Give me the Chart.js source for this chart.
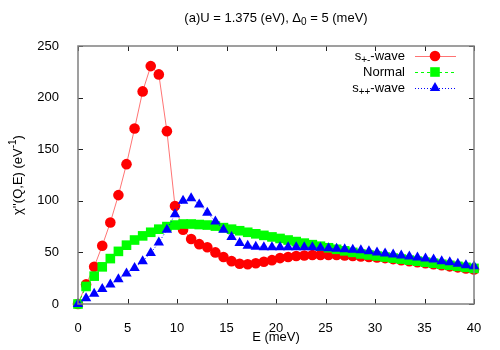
<!DOCTYPE html>
<html>
<head>
<meta charset="utf-8">
<script src="https://cdn.jsdelivr.net/npm/chart.js@4"></script>
<style>
  body { margin: 0; background: #fff; }
  #chart { display: block; }
</style>
</head>
<body>
<canvas id="chart" width="500" height="350"></canvas>
<script>
// energy grid (meV)
var energy = [0, 0.816, 1.633, 2.449, 3.265, 4.082, 4.898, 5.714, 6.531, 7.347,
  8.163, 8.980, 9.796, 10.612, 11.429, 12.245, 13.061, 13.878, 14.694, 15.510,
  16.327, 17.143, 17.959, 18.776, 19.592, 20.408, 21.224, 22.041, 22.857, 23.673,
  24.490, 25.306, 26.122, 26.939, 27.755, 28.571, 29.388, 30.204, 31.020, 31.837,
  32.653, 33.469, 34.286, 35.102, 35.918, 36.735, 37.551, 38.367, 39.184, 40];

var spmWave = [0, 19, 36, 56.5, 79, 105.5, 135.5, 170, 206, 230.5,
  222.5, 167.5, 95, 72, 63, 58, 55, 50, 45.5, 41.5,
  39, 38.5, 39.5, 41, 42.5, 44.5, 45.5, 46.5, 47, 47.5,
  47.5, 47.5, 47.5, 47, 46.5, 46, 45.5, 45, 44.5, 43.5,
  42.5, 41.5, 40.5, 39.5, 38.5, 37.5, 36.5, 35.5, 34.5, 33.5];

var normal = [0, 17, 27, 36, 44, 51, 57, 62, 66, 69.5,
  72.5, 75, 76.5, 77.5, 77.5, 77, 76.5, 75.5, 74, 72.5,
  71, 69.5, 68, 66.5, 65, 63.5, 62, 60.5, 59, 57.5,
  56, 54.5, 53, 51.5, 50, 48.5, 47.5, 46.5, 45.5, 44.5,
  43.5, 42.5, 41.5, 40.5, 39.5, 38.5, 37.5, 36.5, 35.5, 34.5];

var sppWave = [0, 5.5, 10, 14.5, 19, 24, 29.5, 35, 41.5, 49.5,
  59.5, 72, 87, 100, 102.5, 96.5, 88.5, 80, 72, 65,
  59, 56.5, 55.5, 55, 55, 55, 55, 55, 55, 55,
  54.5, 54, 53.5, 53, 52.5, 52, 51, 50, 49, 48,
  47, 46, 45, 44, 43, 41.5, 40.5, 39, 37.5, 36.5];

var FONT = '"Liberation Sans", Arial, sans-serif';

function pts(vals) {
  return energy.map(function (e, i) { return { x: e, y: vals[i] }; });
}

// draws text with sub (1) / superscript (2) pieces
function richText(ctx, parts, x, y, align) {
  var total = 0;
  parts.forEach(function (p) {
    ctx.font = (p[1] ? 10 : 13) + 'px ' + FONT;
    total += ctx.measureText(p[0]).width;
  });
  var cx = align == 'center' ? x - total / 2 : (align == 'right' ? x - total : x);
  ctx.textAlign = 'left';
  ctx.textBaseline = 'middle';
  ctx.fillStyle = '#000';
  parts.forEach(function (p) {
    ctx.font = (p[1] ? 10 : 13) + 'px ' + FONT;
    var dy = p[1] == 1 ? 4 : (p[1] == 2 ? -5 : 0);
    ctx.fillText(p[0], cx, y + dy);
    cx += ctx.measureText(p[0]).width;
  });
}

function marker(ctx, style, x, y, color) {
  ctx.fillStyle = color;
  ctx.beginPath();
  if (style == 'circle') {
    ctx.arc(x, y, 5.3, 0, Math.PI * 2);
  } else if (style == 'rect') {
    ctx.rect(x - 4.8, y - 4.8, 9.6, 9.6);
  } else {
    ctx.moveTo(x, y - 6);
    ctx.lineTo(x + 5.2, y + 3);
    ctx.lineTo(x - 5.2, y + 3);
    ctx.closePath();
  }
  ctx.fill();
}

var legendItems = [
  { parts: [['s', 0], ['+-', 1], ['-wave', 0]], color: '#ff0000', line: 'rgba(255,0,0,0.55)', dash: [], style: 'circle' },
  { parts: [['Normal', 0]], color: '#00ff00', line: '#00ff00', dash: [3, 3], style: 'rect' },
  { parts: [['s', 0], ['++', 1], ['-wave', 0]], color: '#0000ff', line: '#0000ff', dash: [1, 2], style: 'triangle' }
];

var framePlugin = {
  id: 'frame',
  afterDraw: function (chart) {
    var ctx = chart.ctx, a = chart.chartArea;
    var xs = chart.scales.x, ys = chart.scales.y;
    ctx.save();
    // inward ticks on all four sides
    ctx.strokeStyle = '#222';
    ctx.lineWidth = 1;
    ctx.beginPath();
    xs.ticks.forEach(function (t) {
      var px = Math.round(xs.getPixelForValue(t.value)) + 0.5;
      ctx.moveTo(px, a.bottom); ctx.lineTo(px, a.bottom - 5);
      ctx.moveTo(px, a.top); ctx.lineTo(px, a.top + 5);
    });
    ys.ticks.forEach(function (t) {
      var py = Math.round(ys.getPixelForValue(t.value)) + 0.5;
      ctx.moveTo(a.left, py); ctx.lineTo(a.left + 5, py);
      ctx.moveTo(a.right, py); ctx.lineTo(a.right - 5, py);
    });
    ctx.stroke();
    // border
    ctx.strokeStyle = '#808080';
    ctx.lineWidth = 1.5;
    ctx.strokeRect(a.left, a.top, a.right - a.left, a.bottom - a.top);

    // title and axis labels
    var mid = (a.left + a.right) / 2;
    richText(ctx, [['(a)U = 1.375 (eV), \u0394', 0], ['0', 1], [' = 5 (meV)', 0]], mid, 18, 'center');
    richText(ctx, [['E (meV)', 0]], mid, 337, 'center');
    ctx.save();
    ctx.translate(18, (a.top + a.bottom) / 2);
    ctx.rotate(-Math.PI / 2);
    richText(ctx, [["\u03c7''(Q,E) (eV", 0], ['-1', 2], [')', 0]], 0, 0, 'center');
    ctx.restore();

    // legend
    legendItems.forEach(function (it, i) {
      var y = 56 + i * 16;
      richText(ctx, it.parts, 405, y, 'right');
      ctx.strokeStyle = it.line;
      ctx.lineWidth = 1;
      ctx.setLineDash(it.dash);
      ctx.beginPath();
      ctx.moveTo(415, y + 0.5); ctx.lineTo(456, y + 0.5);
      ctx.stroke();
      ctx.setLineDash([]);
      marker(ctx, it.style, 435, y, it.color);
    });
    ctx.restore();
  }
};

// first dataset ends up on top: blue over green over red
new Chart(document.getElementById('chart'), {
  type: 'line',
  data: {
    datasets: [
      {
        label: 's++ wave', data: pts(sppWave), order: 1,
        borderColor: '#0000ff', borderWidth: 1, borderDash: [1, 2],
        pointStyle: 'triangle', pointRadius: 6, pointBorderWidth: 0,
        pointBackgroundColor: '#0000ff', clip: false
      },
      {
        label: 'Normal', data: pts(normal), order: 2,
        borderColor: '#00ff00', borderWidth: 1, borderDash: [3, 3],
        pointStyle: 'rect', pointRadius: 6.8, pointBorderWidth: 0,
        pointBackgroundColor: '#00ff00', clip: false
      },
      {
        label: 's+- wave', data: pts(spmWave), order: 3,
        borderColor: 'rgba(255,0,0,0.55)', borderWidth: 1,
        pointStyle: 'circle', pointRadius: 5.3, pointBorderWidth: 0,
        pointBackgroundColor: '#ff0000', clip: false
      }
    ]
  },
  options: {
    responsive: false,
    animation: false,
    events: [],
    layout: { padding: { top: 46, right: 26, left: 0, bottom: 0 } },
    plugins: { legend: { display: false }, tooltip: { enabled: false } },
    scales: {
      x: {
        type: 'linear', min: 0, max: 40,
        ticks: { stepSize: 5, color: '#000', padding: 9, maxRotation: 0, font: { size: 13, family: FONT } },
        grid: { display: false }, border: { display: false },
        afterFit: function (s) { s.height = 46; }
      },
      y: {
        min: 0, max: 250,
        ticks: { stepSize: 50, color: '#000', padding: 11, font: { size: 13, family: FONT } },
        grid: { display: false }, border: { display: false },
        afterFit: function (s) { s.width = 78; }
      }
    }
  },
  plugins: [framePlugin]
});
</script>
</body>
</html>
